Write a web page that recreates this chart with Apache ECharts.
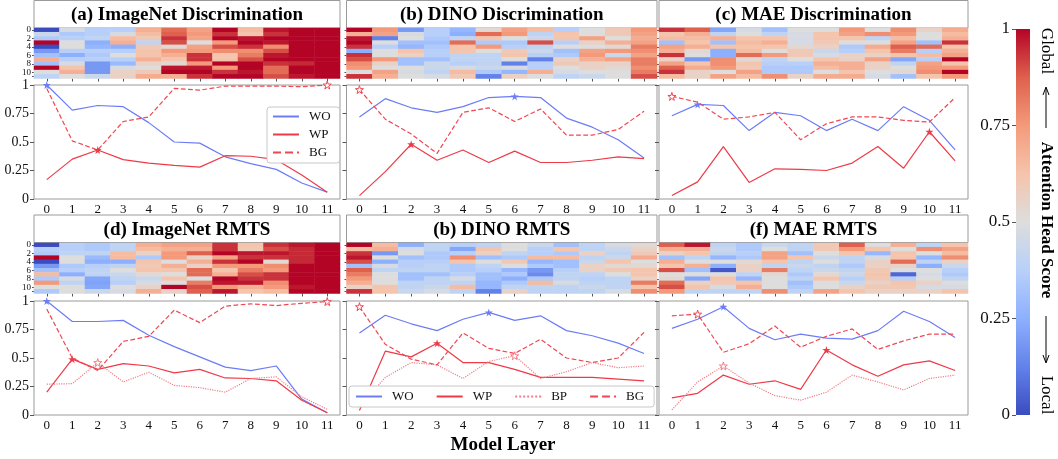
<!DOCTYPE html>
<html>
<head>
<meta charset="utf-8">
<script src="https://cdn.jsdelivr.net/npm/echarts@6/dist/echarts.min.js"></script>
<style>
  html, body { margin: 0; padding: 0; background: #fff; }
  #main { width: 1058px; height: 459px; }
</style>
</head>
<body>
<div id="main"></div>
<script>
// axis categories
const layers = ['0', '1', '2', '3', '4', '5', '6', '7', '8', '9', '10', '11'];
const heads = ['0', '1', '2', '3', '4', '5', '6', '7', '8', '9', '10', '11'];
const scoreTicks = [0, 0.25, 0.5, 0.75, 1];

const titles = [
  '(a) ImageNet Discrimination', '(b) DINO Discrimination', '(c) MAE Discrimination',
  '(d) ImageNet RMTS', '(b) DINO RMTS', '(f) MAE RMTS'
];

// line values per panel
const aWO = [1.0, 0.78, 0.82, 0.81, 0.67, 0.50, 0.49, 0.37, 0.31, 0.26, 0.14, 0.06];
const aWP = [0.17, 0.35, 0.43, 0.345, 0.315, 0.295, 0.28, 0.38, 0.375, 0.345, 0.21, 0.06];
const aBG = [0.97, 0.51, 0.43, 0.68, 0.72, 0.97, 0.955, 0.99, 0.99, 0.99, 0.985, 1.0];

const bWO = [0.72, 0.88, 0.80, 0.76, 0.81, 0.89, 0.90, 0.89, 0.71, 0.63, 0.52, 0.36];
const bWP = [0.03, 0.24, 0.48, 0.34, 0.43, 0.32, 0.42, 0.32, 0.32, 0.34, 0.37, 0.355];
const bBG = [0.96, 0.70, 0.57, 0.40, 0.76, 0.80, 0.68, 0.79, 0.56, 0.56, 0.61, 0.77];

const cWO = [0.73, 0.83, 0.82, 0.60, 0.76, 0.73, 0.60, 0.70, 0.60, 0.81, 0.69, 0.43];
const cWP = [0.03, 0.15, 0.46, 0.145, 0.265, 0.26, 0.25, 0.315, 0.46, 0.27, 0.59, 0.335];
const cBG = [0.90, 0.85, 0.70, 0.72, 0.76, 0.52, 0.66, 0.72, 0.72, 0.69, 0.675, 0.89];

const dWO = [1.0, 0.82, 0.82, 0.83, 0.70, 0.60, 0.51, 0.42, 0.39, 0.43, 0.14, 0.02];
const dWP = [0.20, 0.49, 0.40, 0.45, 0.43, 0.37, 0.40, 0.325, 0.32, 0.30, 0.13, 0.02];
const dBP = [0.27, 0.275, 0.46, 0.29, 0.375, 0.26, 0.24, 0.20, 0.32, 0.335, 0.16, 0.05];
const dBG = [0.93, 0.50, 0.39, 0.645, 0.69, 0.92, 0.81, 0.955, 0.975, 0.96, 0.98, 0.995];

const eWO = [0.72, 0.875, 0.80, 0.74, 0.84, 0.90, 0.83, 0.87, 0.74, 0.695, 0.63, 0.54];
const eWP = [0.04, 0.56, 0.51, 0.63, 0.46, 0.46, 0.40, 0.33, 0.33, 0.33, 0.315, 0.30];
const eBP = [0.07, 0.33, 0.46, 0.44, 0.32, 0.47, 0.52, 0.32, 0.38, 0.46, 0.415, 0.43];
const eBG = [0.95, 0.62, 0.49, 0.44, 0.72, 0.585, 0.54, 0.665, 0.50, 0.46, 0.50, 0.725];

const fWO = [0.76, 0.84, 0.95, 0.76, 0.66, 0.71, 0.675, 0.665, 0.74, 0.91, 0.82, 0.68];
const fWP = [0.15, 0.19, 0.35, 0.27, 0.30, 0.225, 0.57, 0.44, 0.34, 0.44, 0.475, 0.39];
const fBP = [0.045, 0.29, 0.43, 0.28, 0.17, 0.13, 0.20, 0.35, 0.29, 0.22, 0.32, 0.35];
const fBG = [0.87, 0.885, 0.55, 0.625, 0.78, 0.595, 0.69, 0.755, 0.575, 0.65, 0.71, 0.71];

// attention head scores, one inner array per layer (heads 0..11)
const heatA = [
  [0.05, 0.45, 0.38, 0.95, 0.08, 0.25, 0.35, 0.65, 0.35, 0.9, 0.5, 0.42],
  [0.48, 0.38, 0.4, 0.5, 0.5, 0.4, 0.3, 0.4, 0.48, 0.6, 0.65, 0.5],
  [0.4, 0.4, 0.42, 0.3, 0.32, 0.4, 0.38, 0.4, 0.25, 0.25, 0.25, 0.45],
  [0.4, 0.48, 0.62, 0.65, 0.3, 0.4, 0.5, 0.4, 0.33, 0.48, 0.55, 0.55],
  [0.65, 0.62, 0.58, 0.42, 0.58, 0.6, 0.6, 0.65, 0.55, 0.5, 0.58, 0.66],
  [0.78, 0.8, 0.85, 0.82, 0.52, 0.7, 0.65, 0.6, 0.52, 0.88, 0.9, 0.65],
  [0.68, 0.7, 0.68, 0.5, 0.68, 0.7, 0.85, 0.85, 0.7, 0.88, 0.9, 0.85],
  [0.9, 0.85, 0.95, 0.7, 0.82, 0.72, 0.6, 0.6, 0.92, 0.7, 0.85, 0.92],
  [0.62, 0.6, 0.88, 0.95, 0.85, 0.72, 0.75, 0.82, 0.92, 0.9, 0.88, 0.92],
  [0.88, 0.85, 0.92, 0.88, 0.72, 0.82, 0.88, 0.9, 0.85, 0.78, 0.78, 0.82],
  [0.96, 0.95, 0.9, 0.92, 0.95, 0.92, 0.95, 0.9, 0.86, 0.9, 0.95, 0.88],
  [0.9, 0.97, 0.97, 0.98, 0.98, 0.97, 0.98, 0.97, 0.98, 0.97, 0.98, 0.97]
];
const heatB = [
  [0.95, 0.65, 0.88, 0.92, 0.85, 0.3, 0.85, 0.82, 0.72, 0.7, 0.5, 0.85],
  [0.7, 0.68, 0.2, 0.5, 0.4, 0.5, 0.5, 0.7, 0.55, 0.5, 0.68, 0.65],
  [0.25, 0.48, 0.5, 0.35, 0.32, 0.6, 0.55, 0.35, 0.35, 0.5, 0.48, 0.5],
  [0.4, 0.4, 0.38, 0.35, 0.38, 0.4, 0.4, 0.35, 0.45, 0.45, 0.42, 0.48],
  [0.32, 0.3, 0.42, 0.78, 0.6, 0.6, 0.42, 0.42, 0.4, 0.48, 0.62, 0.58],
  [0.52, 0.78, 0.6, 0.38, 0.7, 0.5, 0.42, 0.42, 0.42, 0.45, 0.38, 0.2],
  [0.68, 0.7, 0.5, 0.38, 0.4, 0.58, 0.6, 0.5, 0.2, 0.48, 0.32, 0.55],
  [0.62, 0.42, 0.45, 0.82, 0.42, 0.45, 0.4, 0.2, 0.4, 0.4, 0.65, 0.5],
  [0.4, 0.6, 0.6, 0.4, 0.5, 0.35, 0.38, 0.55, 0.58, 0.5, 0.48, 0.42],
  [0.5, 0.5, 0.68, 0.55, 0.5, 0.68, 0.7, 0.65, 0.55, 0.55, 0.5, 0.45],
  [0.58, 0.58, 0.5, 0.65, 0.52, 0.7, 0.45, 0.68, 0.55, 0.52, 0.5, 0.5],
  [0.7, 0.68, 0.66, 0.68, 0.75, 0.72, 0.68, 0.75, 0.75, 0.72, 0.75, 0.82]
];
const heatC = [
  [0.85, 0.6, 0.62, 0.35, 0.68, 0.65, 0.85, 0.55, 0.68, 0.8, 0.85, 0.62],
  [0.8, 0.65, 0.62, 0.6, 0.65, 0.52, 0.5, 0.25, 0.6, 0.66, 0.55, 0.55],
  [0.28, 0.42, 0.65, 0.35, 0.6, 0.3, 0.3, 0.72, 0.72, 0.7, 0.5, 0.68],
  [0.48, 0.5, 0.6, 0.62, 0.6, 0.62, 0.78, 0.52, 0.6, 0.58, 0.68, 0.62],
  [0.35, 0.42, 0.6, 0.65, 0.6, 0.5, 0.7, 0.42, 0.4, 0.38, 0.38, 0.72],
  [0.5, 0.48, 0.48, 0.48, 0.52, 0.58, 0.58, 0.5, 0.4, 0.38, 0.38, 0.55],
  [0.5, 0.6, 0.6, 0.58, 0.55, 0.45, 0.48, 0.6, 0.65, 0.62, 0.5, 0.66],
  [0.7, 0.68, 0.6, 0.5, 0.38, 0.4, 0.55, 0.55, 0.65, 0.65, 0.6, 0.66],
  [0.5, 0.72, 0.42, 0.5, 0.66, 0.6, 0.55, 0.68, 0.55, 0.55, 0.5, 0.48],
  [0.72, 0.7, 0.62, 0.68, 0.8, 0.75, 0.6, 0.28, 0.42, 0.5, 0.52, 0.35],
  [0.55, 0.5, 0.5, 0.35, 0.78, 0.4, 0.62, 0.4, 0.68, 0.7, 0.72, 0.6],
  [0.66, 0.62, 0.65, 0.85, 0.6, 0.65, 0.68, 0.9, 0.6, 0.7, 0.9, 0.7]
];
const heatD = [
  [0.05, 0.4, 0.38, 0.92, 0.06, 0.25, 0.35, 0.62, 0.38, 0.7, 0.5, 0.38],
  [0.4, 0.4, 0.42, 0.5, 0.5, 0.38, 0.4, 0.3, 0.48, 0.42, 0.5, 0.5],
  [0.38, 0.38, 0.42, 0.33, 0.3, 0.4, 0.42, 0.42, 0.28, 0.27, 0.28, 0.45],
  [0.42, 0.42, 0.62, 0.62, 0.3, 0.42, 0.5, 0.45, 0.42, 0.4, 0.5, 0.48],
  [0.65, 0.62, 0.55, 0.38, 0.6, 0.58, 0.6, 0.52, 0.45, 0.48, 0.55, 0.65],
  [0.68, 0.65, 0.7, 0.7, 0.5, 0.65, 0.6, 0.5, 0.6, 0.5, 0.9, 0.55],
  [0.68, 0.65, 0.8, 0.55, 0.65, 0.55, 0.78, 0.78, 0.5, 0.75, 0.82, 0.8],
  [0.85, 0.85, 0.92, 0.68, 0.85, 0.7, 0.6, 0.65, 0.9, 0.88, 0.7, 0.88],
  [0.6, 0.58, 0.88, 0.85, 0.95, 0.7, 0.75, 0.82, 0.85, 0.88, 0.65, 0.6],
  [0.85, 0.82, 0.88, 0.85, 0.52, 0.72, 0.7, 0.85, 0.85, 0.72, 0.7, 0.62],
  [0.88, 0.86, 0.86, 0.86, 0.86, 0.95, 0.9, 0.9, 0.9, 0.9, 0.88, 0.9],
  [0.96, 0.97, 0.97, 0.97, 0.97, 0.97, 0.97, 0.97, 0.97, 0.97, 0.97, 0.97]
];
const heatE = [
  [0.92, 0.62, 0.85, 0.88, 0.82, 0.35, 0.8, 0.75, 0.7, 0.65, 0.55, 0.85],
  [0.62, 0.65, 0.25, 0.5, 0.3, 0.48, 0.42, 0.5, 0.5, 0.5, 0.6, 0.6],
  [0.3, 0.48, 0.5, 0.35, 0.4, 0.4, 0.42, 0.35, 0.35, 0.42, 0.42, 0.45],
  [0.42, 0.42, 0.38, 0.38, 0.4, 0.42, 0.42, 0.35, 0.42, 0.42, 0.45, 0.48],
  [0.4, 0.28, 0.4, 0.72, 0.6, 0.38, 0.38, 0.4, 0.48, 0.42, 0.62, 0.42],
  [0.42, 0.6, 0.55, 0.35, 0.5, 0.42, 0.4, 0.35, 0.35, 0.32, 0.32, 0.2],
  [0.5, 0.5, 0.42, 0.38, 0.58, 0.5, 0.32, 0.38, 0.3, 0.38, 0.42, 0.55],
  [0.45, 0.4, 0.4, 0.62, 0.32, 0.38, 0.25, 0.22, 0.38, 0.62, 0.42, 0.42],
  [0.35, 0.6, 0.38, 0.62, 0.35, 0.35, 0.4, 0.42, 0.42, 0.48, 0.42, 0.42],
  [0.42, 0.42, 0.55, 0.42, 0.45, 0.55, 0.55, 0.42, 0.4, 0.42, 0.45, 0.42],
  [0.48, 0.45, 0.42, 0.45, 0.6, 0.52, 0.58, 0.5, 0.42, 0.42, 0.42, 0.48],
  [0.52, 0.55, 0.58, 0.66, 0.5, 0.52, 0.6, 0.6, 0.55, 0.75, 0.6, 0.72]
];
const heatF = [
  [0.8, 0.65, 0.55, 0.35, 0.65, 0.6, 0.82, 0.5, 0.52, 0.78, 0.82, 0.7],
  [0.88, 0.65, 0.6, 0.42, 0.5, 0.65, 0.35, 0.5, 0.28, 0.55, 0.6, 0.42],
  [0.42, 0.45, 0.42, 0.32, 0.5, 0.3, 0.12, 0.5, 0.6, 0.58, 0.48, 0.42],
  [0.38, 0.38, 0.4, 0.38, 0.52, 0.55, 0.55, 0.42, 0.32, 0.6, 0.65, 0.42],
  [0.45, 0.5, 0.68, 0.68, 0.6, 0.42, 0.75, 0.52, 0.5, 0.5, 0.5, 0.72],
  [0.42, 0.42, 0.35, 0.6, 0.42, 0.45, 0.42, 0.38, 0.42, 0.35, 0.38, 0.42],
  [0.58, 0.58, 0.5, 0.45, 0.5, 0.42, 0.45, 0.52, 0.6, 0.5, 0.5, 0.68],
  [0.8, 0.7, 0.6, 0.42, 0.42, 0.38, 0.42, 0.45, 0.4, 0.45, 0.55, 0.6],
  [0.5, 0.6, 0.32, 0.48, 0.55, 0.55, 0.58, 0.6, 0.58, 0.55, 0.58, 0.55],
  [0.65, 0.5, 0.6, 0.6, 0.78, 0.55, 0.5, 0.15, 0.4, 0.6, 0.58, 0.55],
  [0.42, 0.72, 0.5, 0.32, 0.42, 0.3, 0.5, 0.48, 0.5, 0.55, 0.48, 0.55],
  [0.6, 0.68, 0.62, 0.72, 0.55, 0.45, 0.4, 0.38, 0.42, 0.5, 0.48, 0.6]
];

const panels = [
  { heat: heatA, lines: { WO: aWO, WP: aWP, BG: aBG } },
  { heat: heatB, lines: { WO: bWO, WP: bWP, BG: bBG } },
  { heat: heatC, lines: { WO: cWO, WP: cWP, BG: cBG } },
  { heat: heatD, lines: { WO: dWO, WP: dWP, BP: dBP, BG: dBG } },
  { heat: heatE, lines: { WO: eWO, WP: eWP, BP: eBP, BG: eBG } },
  { heat: heatF, lines: { WO: fWO, WP: fWP, BP: fBP, BG: fBG } }
];

// layout
const SERIF = '"Liberation Serif", "Times New Roman", serif';
const colBox = [[34, 306], [346.5, 310.5], [659, 309]];
const rowBox = [{ title: 0.5, heat: 28, line: 85 }, { title: 215, heat: 243, line: 301 }];
const TITLE_H = 27.5, HEAT_H = 50.5, LINE_H = 114;

const coolwarm = ['#3b4cc0', '#6282ea', '#8db0fe', '#b8d0f9', '#dddddd',
  '#f5c4ac', '#f49a7b', '#de604d', '#b40426'];

const lineStyles = {
  WO: { color: '#6c7cf6', type: 'solid', hollow: false },
  WP: { color: '#ee3a47', type: 'solid', hollow: false },
  BP: { color: '#f27d88', type: 'dotted', hollow: true },
  BG: { color: '#ef4753', type: 'dashed', hollow: true }
};
const STAR = 'path://M50,0 L61,35 L98,35 L68,57 L79,91 L50,70 L21,91 L32,57 L2,35 L39,35 Z';

const grid = [], xAxis = [], yAxis = [], series = [], graphic = [];
const heatSeriesIdx = [];
const axisGray = '#555';

panels.forEach((p, k) => {
  const col = k % 3, row = Math.floor(k / 3);
  const [left, width] = colBox[col];
  const rb = rowBox[row];
  const hg = grid.length;

  // heatmap grid
  grid.push({ left: left, top: rb.heat, width: width, height: HEAT_H, show: false });
  xAxis.push({
    type: 'category', gridIndex: hg, data: layers, position: 'bottom',
    axisLine: { show: false }, axisLabel: { show: false },
    axisTick: { show: true, alignWithLabel: true, length: 3, lineStyle: { color: axisGray } }
  });
  yAxis.push({
    type: 'category', gridIndex: hg, data: heads, inverse: true,
    axisLine: { show: false },
    axisLabel: { show: col === 0, interval: 0, fontSize: 9, margin: 3, color: '#111', fontFamily: SERIF,
      hideOverlap: false, showMinLabel: true, showMaxLabel: true,
      formatter: (v, i) => (i % 2 === 0 ? v : '') },
    axisTick: { show: true, alignWithLabel: true, interval: 1, length: 2, lineStyle: { color: axisGray } }
  });
  const cells = [];
  p.heat.forEach((arr, li) => arr.forEach((v, hi) => cells.push([li, hi, v])));
  heatSeriesIdx.push(series.length);
  series.push({
    type: 'heatmap', xAxisIndex: hg, yAxisIndex: hg, data: cells,
    itemStyle: { borderWidth: 0 }, emphasis: { disabled: true }, silent: true
  });

  // line grid
  const lg = grid.length;
  grid.push({ left: left, top: rb.line, width: width, height: LINE_H, show: true,
    borderColor: '#9a9a9a', borderWidth: 1 });
  xAxis.push({
    type: 'category', gridIndex: lg, data: layers, boundaryGap: true,
    axisLine: { show: false },
    axisLabel: { fontSize: 13, margin: 4, color: '#111', fontFamily: SERIF },
    axisTick: { alignWithLabel: true, length: 4, lineStyle: { color: axisGray } }
  });
  yAxis.push({
    type: 'value', gridIndex: lg, min: 0, max: 1, interval: 0.25,
    splitLine: { show: false }, axisLine: { show: false },
    axisLabel: { show: col === 0, fontSize: 14, margin: 5, color: '#111', fontFamily: SERIF,
      formatter: v => scoreTicks.includes(v) ? String(v) : '' },
    axisTick: { show: true, length: 4, lineStyle: { color: axisGray } }
  });
  Object.keys(p.lines).forEach(name => {
    const st = lineStyles[name];
    series.push({
      type: 'line', name: name, xAxisIndex: lg, yAxisIndex: lg, data: p.lines[name],
      symbol: 'none', color: st.color,
      lineStyle: { color: st.color, width: 1.2, type: st.type },
      markPoint: {
        symbol: STAR, symbolSize: 8, silent: true,
        label: { show: false },
        itemStyle: st.hollow ? { color: '#fff', borderColor: st.color, borderWidth: 1 } : { color: st.color },
        data: [{ type: 'max' }]
      }
    });
  });

  // title box
  graphic.push({
    type: 'group', children: [
      { type: 'rect', shape: { x: left, y: rb.title, width: width, height: TITLE_H },
        style: { fill: '#fff', stroke: '#9a9a9a', lineWidth: 1 } },
      { type: 'text', x: left + width / 2, y: rb.title + TITLE_H / 2 + 1,
        style: { text: titles[k], align: 'center', verticalAlign: 'middle',
          font: 'bold 19px ' + SERIF, fill: '#000' } }
    ]
  });
});

// colorbar
const cbg = grid.length;
grid.push({ left: 1016, top: 29, width: 14, height: 386, show: false });
xAxis.push({ type: 'category', gridIndex: cbg, data: ['score'], show: false, boundaryGap: true });
yAxis.push({
  type: 'value', gridIndex: cbg, min: 0, max: 1, interval: 0.25, position: 'left',
  splitLine: { show: false }, axisLine: { show: false },
  axisLabel: { fontSize: 17, margin: 6, color: '#111', fontFamily: SERIF },
  axisTick: { show: true, length: 4, lineStyle: { color: axisGray } }
});
series.push({
  type: 'bar', xAxisIndex: cbg, yAxisIndex: cbg, data: [1], barWidth: '100%', silent: true,
  itemStyle: {
    color: new echarts.graphic.LinearGradient(0, 1, 0, 0,
      coolwarm.map((c, i) => ({ offset: i / (coolwarm.length - 1), color: c })))
  }
});

// colorbar label
const labX = 1046;
graphic.push(
  { type: 'text', x: labX, y: 51, rotation: -Math.PI / 2,
    style: { text: 'Global', align: 'center', verticalAlign: 'middle', font: '17px ' + SERIF, fill: '#000' } },
  { type: 'text', x: labX, y: 220, rotation: -Math.PI / 2,
    style: { text: 'Attention Head Score', align: 'center', verticalAlign: 'middle', font: 'bold 17px ' + SERIF, fill: '#000' } },
  { type: 'text', x: labX, y: 395, rotation: -Math.PI / 2,
    style: { text: 'Local', align: 'center', verticalAlign: 'middle', font: '17px ' + SERIF, fill: '#000' } },
  { type: 'line', shape: { x1: labX, y1: 88, x2: labX, y2: 128 }, style: { stroke: '#000', lineWidth: 1 } },
  { type: 'polyline', shape: { points: [[labX - 3, 95], [labX, 87], [labX + 3, 95]] }, style: { stroke: '#000', fill: null, lineWidth: 1 } },
  { type: 'line', shape: { x1: labX, y1: 316, x2: labX, y2: 362 }, style: { stroke: '#000', lineWidth: 1 } },
  { type: 'polyline', shape: { points: [[labX - 3, 355], [labX, 363], [labX + 3, 355]] }, style: { stroke: '#000', fill: null, lineWidth: 1 } },
  { type: 'text', x: 503, y: 445,
    style: { text: 'Model Layer', align: 'center', verticalAlign: 'middle', font: 'bold 19px ' + SERIF, fill: '#000' } }
);

const legendText = { fontSize: 13, color: '#111', fontFamily: SERIF, padding: [0, 0, 0, 5] };

const option = {
  animation: false,
  backgroundColor: '#fff',
  grid: grid,
  xAxis: xAxis,
  yAxis: yAxis,
  visualMap: {
    type: 'continuous', show: false, min: 0.1, max: 0.9, seriesIndex: heatSeriesIdx,
    inRange: { color: coolwarm }
  },
  legend: [
    {
      data: ['WO', 'WP', 'BG'], orient: 'vertical', left: 267, top: 107,
      itemWidth: 26, itemHeight: 14, itemGap: 5, padding: [3, 9, 4, 5],
      borderColor: '#c8c8c8', borderWidth: 1, borderRadius: 3, backgroundColor: '#fff',
      itemStyle: { opacity: 0 },
      textStyle: legendText, selectedMode: false, z: 10
    },
    {
      data: ['WO', 'WP', 'BP', 'BG'], orient: 'horizontal', left: 349, top: 386,
      itemWidth: 26, itemHeight: 14, itemGap: 22, padding: [4, 10, 4, 6],
      borderColor: '#c8c8c8', borderWidth: 1, borderRadius: 3, backgroundColor: '#fff',
      itemStyle: { opacity: 0 },
      textStyle: legendText, selectedMode: false, z: 10
    }
  ],
  graphic: graphic,
  series: series
};

const chart = echarts.init(document.getElementById('main'), null, { renderer: 'canvas' });
chart.setOption(option);
</script>
</body>
</html>
